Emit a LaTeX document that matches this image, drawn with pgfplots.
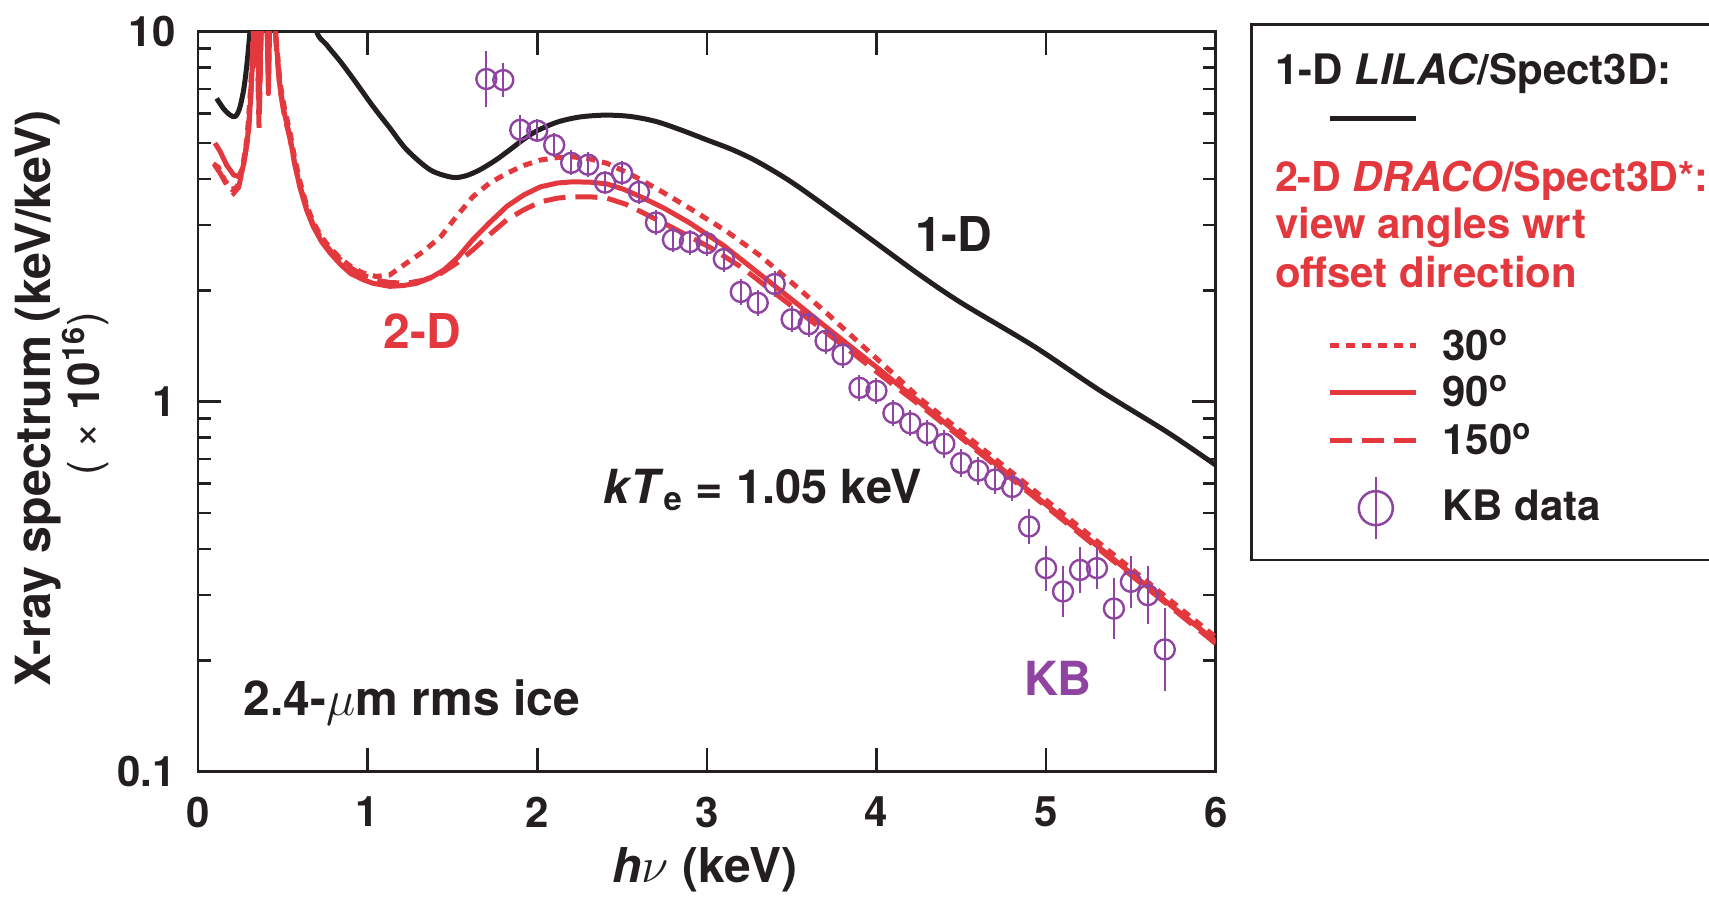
\documentclass[border=0pt]{standalone}
\usepackage{fontspec}
\setmainfont{TeX Gyre Heros}
\usepackage{pgfplots}
\usepackage{pgfplotstable}
\pgfplotsset{compat=1.18}

\definecolor{ink}{RGB}{35,31,32}
\definecolor{simred}{RGB}{226,56,62}
\definecolor{kbpurple}{RGB}{142,68,160}

\newcommand{\fsz}[1]{\fontsize{#1}{#1}\selectfont\bfseries}

\pgfplotsset{
  keyline/.style={legend image code/.code={%
      \path (0pt,0pt);
      \draw[##1] (28.65pt,0pt) -- (71.65pt,0pt);}},
  kbkey/.style={legend image code/.code={%
      \path (0pt,0pt);
      \draw[kbpurple, line width=1pt] (51.65pt,-15.35pt) -- (51.65pt,15.35pt);
      \draw[kbpurple, line width=1.25pt] (51.65pt,0pt) circle[radius=8.5pt];}},
}

% 1-D LILAC/Spect3D
\pgfplotstableread{
x y
0.11 6.6
0.15 6.2
0.19 5.95
0.22 5.9
0.245 6.2
0.27 7.0
0.29 8.3
0.31 10.5
0.34 16
0.40 25
0.45 30
0.52 25
0.60 17
0.69 10.3
0.76 9.2
0.84 8.3
0.93 7.3
1.03 6.3
1.13 5.5
1.23 4.8
1.37 4.23
1.50 4.04
1.58 4.08
1.66 4.23
1.75 4.48
1.84 4.8
1.92 5.12
2.00 5.4
2.12 5.7
2.25 5.88
2.40 5.95
2.55 5.90
2.70 5.72
2.85 5.42
3.00 5.10
3.15 4.80
3.30 4.45
3.50 3.92
3.75 3.25
4.00 2.68
4.25 2.21
4.50 1.85
4.93 1.41
5.32 1.07
5.71 0.83
6.00 0.674
}\onedtable

% 2-D DRACO/Spect3D, 30 deg
\pgfplotstableread{
x y
0.09 4.4
0.12 4.3
0.16 3.95
0.20 3.75
0.23 3.8
0.26 4.2
0.29 5.2
0.31 7
0.33 11
0.345 16
0.36 6.5
0.375 12
0.39 18
0.405 13
0.415 9
0.425 13
0.44 16
0.46 9.7
0.483 7.3
0.51 6.2
0.542 5.35
0.57 4.55
0.60 3.95
0.64 3.4
0.68 3.05
0.73 2.78
0.78 2.6
0.84 2.44
0.90 2.32
0.97 2.23
1.05 2.18
1.13 2.2
1.23 2.37
1.33 2.55
1.43 2.79
1.52 3.15
1.62 3.58
1.72 3.9
1.82 4.14
1.92 4.35
2.02 4.5
2.12 4.57
2.21 4.59
2.31 4.53
2.41 4.41
2.55 4.12
2.72 3.73
2.90 3.33
3.12 2.88
3.31 2.49
3.51 2.08
3.71 1.73
3.90 1.44
4.10 1.19
4.25 1.025
4.50 0.83
4.80 0.643
5.00 0.542
5.25 0.438
5.50 0.354
5.75 0.286
6.00 0.231
}\dottedtable

% 2-D DRACO/Spect3D, 90 deg
\pgfplotstableread{
x y
0.10 5.0
0.13 4.75
0.17 4.35
0.21 4.1
0.24 4.06
0.265 4.3
0.29 5.0
0.31 6.5
0.33 10
0.345 16
0.36 6.0
0.375 12
0.39 18
0.405 12
0.415 6.8
0.425 12
0.44 16
0.46 9.5
0.483 7.1
0.51 6.0
0.542 5.2
0.57 4.4
0.60 3.81
0.64 3.3
0.68 2.97
0.73 2.7
0.78 2.52
0.84 2.35
0.90 2.22
0.97 2.14
1.03 2.09
1.13 2.05
1.21 2.06
1.29 2.09
1.37 2.16
1.45 2.27
1.53 2.45
1.62 2.74
1.72 3.05
1.82 3.37
1.92 3.62
2.02 3.81
2.12 3.9
2.21 3.93
2.31 3.92
2.41 3.88
2.51 3.75
2.61 3.58
2.75 3.33
2.90 3.04
3.10 2.64
3.38 2.09
3.50 1.89
3.75 1.53
4.00 1.24
4.25 1.00
4.50 0.807
4.80 0.625
5.00 0.527
5.25 0.426
5.50 0.344
5.75 0.278
6.00 0.225
}\solidtable

% 2-D DRACO/Spect3D, 150 deg
\pgfplotstableread{
x y
0.10 4.35
0.13 4.15
0.17 3.85
0.21 3.66
0.24 3.8
0.27 4.4
0.30 5.5
0.32 8
0.34 14
0.36 5.5
0.375 11
0.39 18
0.405 11
0.415 7.5
0.425 12
0.44 16
0.46 9.3
0.483 7.0
0.51 5.9
0.542 5.15
0.57 4.4
0.60 3.85
0.64 3.35
0.68 3.0
0.73 2.74
0.78 2.56
0.84 2.42
0.90 2.3
0.97 2.2
1.05 2.13
1.13 2.1
1.23 2.09
1.33 2.13
1.43 2.22
1.52 2.36
1.62 2.57
1.72 2.83
1.82 3.1
1.92 3.3
2.02 3.47
2.12 3.55
2.21 3.58
2.31 3.58
2.41 3.55
2.52 3.42
2.63 3.23
2.80 2.95
3.02 2.61
3.21 2.30
3.41 1.95
3.61 1.66
3.81 1.41
4.10 1.11
4.30 0.944
4.50 0.798
4.80 0.617
5.00 0.521
5.25 0.421
5.50 0.340
5.75 0.275
6.00 0.222
}\dashedtable

% KB data: value with relative upper/lower uncertainties
\pgfplotstableread{
x y ep em
1.7 7.45 0.190 0.160
1.8 7.40 0.109 0.098
1.9 5.43 0.098 0.089
2.0 5.40 0.076 0.070
2.1 4.94 0.076 0.070
2.2 4.42 0.081 0.075
2.3 4.37 0.081 0.075
2.4 3.91 0.076 0.070
2.5 4.15 0.076 0.070
2.6 3.69 0.076 0.070
2.7 3.05 0.081 0.075
2.8 2.74 0.081 0.075
2.9 2.70 0.081 0.075
3.0 2.68 0.081 0.075
3.1 2.43 0.081 0.075
3.2 1.98 0.084 0.077
3.3 1.85 0.084 0.077
3.4 2.08 0.084 0.077
3.5 1.67 0.084 0.077
3.6 1.62 0.084 0.077
3.7 1.46 0.084 0.077
3.8 1.34 0.084 0.077
3.9 1.09 0.084 0.077
4.0 1.07 0.084 0.077
4.1 0.932 0.084 0.077
4.2 0.874 0.084 0.077
4.3 0.822 0.084 0.077
4.4 0.770 0.091 0.084
4.5 0.683 0.091 0.084
4.6 0.651 0.091 0.084
4.7 0.616 0.091 0.084
4.8 0.588 0.091 0.084
4.9 0.460 0.114 0.103
5.0 0.355 0.151 0.131
5.1 0.307 0.175 0.149
5.2 0.351 0.151 0.131
5.3 0.355 0.138 0.121
5.4 0.276 0.208 0.172
5.5 0.326 0.175 0.149
5.6 0.300 0.200 0.166
5.7 0.214 0.297 0.229
}\kbtable

\begin{document}
\begin{tikzpicture}
\begin{axis}[
  at={(0pt,0pt)}, anchor=south west,
  scale only axis, width=508.85pt, height=370pt,
  clip mode=individual,
  xmin=0, xmax=6, ymin=0.1, ymax=10, ymode=log,
  xtick={0,1,2,3,4,5,6}, xticklabels={0,1,2,3,4,5,6},
  ytick={0.1,1,10}, yticklabels={0.1,1,10},
  minor ytick={0.2,0.3,0.4,0.5,0.6,0.7,0.8,0.9,2,3,4,5,6,7,8,9},
  tick align=inside,
  major tick length=11.7pt, minor tick length=6.5pt,
  every tick/.style={ink, line width=1.3pt},
  axis line style={ink, line width=1.35pt},
  xticklabel style={font=\fsz{21}, text=ink, inner sep=0pt, anchor=north, yshift=-12.5pt},
  yticklabel style={font=\fsz{21}, text=ink, inner sep=0pt, anchor=east, xshift=-11pt},
  xlabel={\textit{h}$\nu$ (keV)},
  xlabel style={at={(axis description cs:0.498,-0.1504)}, anchor=base, font=\fsz{24}, text=ink, inner sep=0pt},
  ylabel={X-ray spectrum (keV/keV)},
  ylabel style={at={(axis description cs:-0.1454,0.505)}, anchor=base, font=\fsz{24.2}, text=ink, inner sep=0pt},
  legend cell align=left,
  legend style={
    at={(1.0354,1.0095)}, anchor=north west,
    draw=ink, line width=1.3pt, fill=white, outer sep=0pt,
    inner xsep=9.15pt, inner ysep=2.85pt,
    row sep=0pt, column sep=12pt,
    nodes={inner sep=0pt, font=\fsz{21}, text=ink},
  },
]
% legend rows
\addlegendimage{empty legend}
\addlegendentry[text height=27.1pt, text depth=9pt]{\makebox[135pt][l]{\hspace*{-83.65pt}1-D \textit{LILAC}/Spect3D:}}
\addlegendimage{ink, line width=2.5pt, keyline}
\addlegendentry[text height=8pt, text depth=8pt]{\mbox{}}
\addlegendimage{empty legend}
\addlegendentry[text=simred, text height=28.65pt, text depth=8.1pt]{\makebox[135pt][l]{\hspace*{-83.65pt}\fsz{20.6}2-D \textit{DRACO}/Spect3D*:}}
\addlegendimage{empty legend}
\addlegendentry[text=simred, text height=15pt, text depth=9.6pt]{\makebox[135pt][l]{\hspace*{-83.65pt}view angles wrt}}
\addlegendimage{empty legend}
\addlegendentry[text=simred, text height=15pt, text depth=18.8pt]{\makebox[135pt][l]{\hspace*{-83.65pt}offset direction}}
\addlegendimage{simred, line width=2.5pt, dash pattern=on 4.5pt off 3.5pt, keyline}
\addlegendentry[text height=17.65pt, text depth=2.85pt]{30\textsuperscript{o}}
\addlegendimage{simred, line width=2.5pt, keyline}
\addlegendentry[text height=20.3pt, text depth=6.6pt]{90\textsuperscript{o}}
\addlegendimage{simred, line width=2.5pt, dash pattern=on 11pt off 5pt, keyline}
\addlegendentry[text height=17.4pt, text depth=3.8pt]{150\textsuperscript{o}}
\addlegendimage{kbpurple, kbkey}
\addlegendentry[text height=29.15pt, text depth=16.95pt]{KB data}

% simulated spectra
\addplot[ink, line width=2.5pt, line join=round, smooth, forget plot] table[x=x, y=y] {\onedtable};
\addplot[simred, line width=2.5pt, dash pattern=on 4.5pt off 3.5pt, forget plot] table[x=x, y=y] {\dottedtable};
\addplot[simred, line width=2.5pt, line join=round, forget plot] table[x=x, y=y] {\solidtable};
\addplot[simred, line width=2.5pt, dash pattern=on 11pt off 5pt, forget plot] table[x=x, y=y] {\dashedtable};

% measured spectrum
\addplot[only marks, mark=o, color=kbpurple, mark size=5pt,
  mark options={line width=1.2pt, solid}, forget plot,
  error bars/.cd, y dir=both, y explicit relative, error mark=none,
  error bar style={line width=1pt, kbpurple}]
  table[x=x, y=y, y error plus=ep, y error minus=em] {\kbtable};

% annotations
\node[anchor=base, inner sep=0pt, font=\fsz{24}, text=ink] at (axis cs:4.457,2.54) {1-D};
\node[anchor=base, inner sep=0pt, font=\fsz{24}, text=simred] at (axis cs:1.324,1.394) {2-D};
\node[anchor=base, inner sep=0pt, font=\fsz{23.5}, text=ink] at (axis cs:3.33,0.531) {\textit{kT}\textsubscript{e} = 1.05 keV};
\node[anchor=base west, inner sep=0pt, font=\fsz{24}, text=ink] at (axis cs:0.267,0.1423) {2.4-$\mu$m rms ice};
\node[anchor=base, inner sep=0pt, font=\fsz{23.5}, text=kbpurple] at (axis cs:5.07,0.161) {KB};
\node[rotate=90, anchor=base, inner sep=0pt, text=ink] at (axis description cs:-0.0963,0.511)
  {\fsz{22}{\mdseries( × }10\textsuperscript{16}{\mdseries)}};
\end{axis}
\pgfresetboundingbox
\path[use as bounding box] (-99pt,-62.65pt) rectangle (755.5pt,385.85pt);
\end{tikzpicture}
\end{document}
